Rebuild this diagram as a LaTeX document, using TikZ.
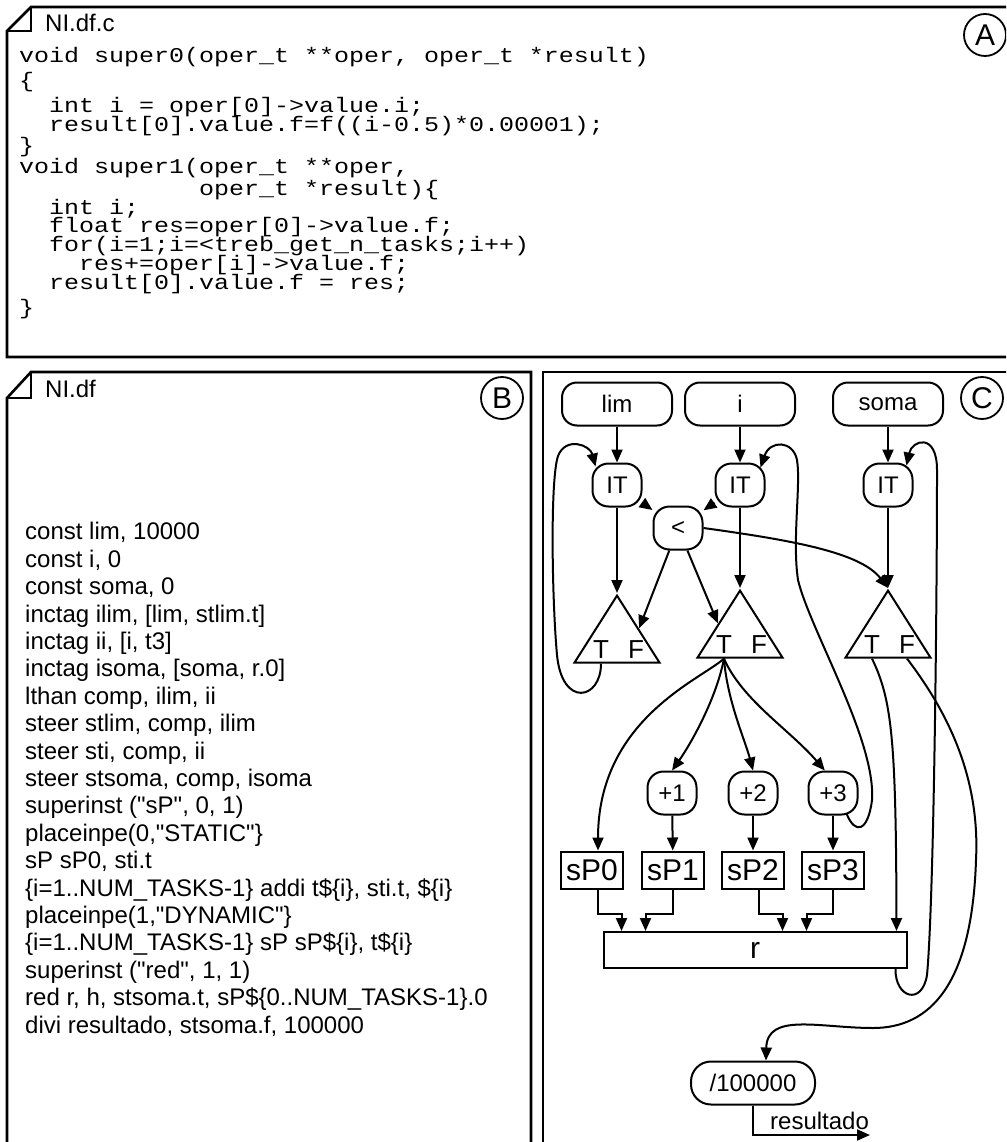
\documentclass[tikz,border=0pt]{standalone}
\usepackage{fontspec}
\setmainfont{Liberation Sans}
\newfontfamily\labelfont{Liberation Sans}
\newfontfamily\codefam{Liberation Mono}[FakeStretch=1.19]
\usetikzlibrary{arrows.meta,shapes.geometric}

\newcommand\codefont{\codefam\fontsize{21}{18.8}\selectfont\lineskiplimit=-40pt\relax}

\tikzset{
  panel/.style={line width=2.6pt},
  txt/.style={font=\labelfont\fontsize{24}{27.4}\selectfont},
  big/.style={font=\labelfont\fontsize{30}{30}\selectfont},
  tag/.style={draw,circle,line width=1.8pt,minimum size=42pt,inner sep=0pt,big},
  val/.style={draw,rounded corners=15pt,line width=2pt,minimum width=110pt,minimum height=43pt,inner sep=0pt,txt},
  op/.style={draw,rounded corners=16pt,line width=2pt,minimum width=49pt,minimum height=43pt,inner sep=0pt,txt},
  sp/.style={draw,line width=2pt,minimum width=62pt,minimum height=37pt,inner sep=0pt,big},
  rbox/.style={draw,line width=2pt,minimum width=303pt,minimum height=36pt,inner sep=0pt,big},
  steer/.style={draw,line width=2pt,isosceles triangle,shape border rotate=90,isosceles triangle stretches,
    minimum width=85pt,minimum height=67pt,inner sep=0pt,anchor=apex},
  tf/.style={font=\labelfont\fontsize{26}{26}\selectfont,anchor=base,inner sep=0pt},
  arr/.style={line width=2pt,-{Triangle[length=13pt,width=11pt]}},
}

\begin{document}
\begin{tikzpicture}[x=1pt,y=-1pt]
\useasboundingbox (0,0) rectangle (1006,1142);
\clip (0,0) rectangle (1006,1142);

% Panel A: the C file
\draw[panel] (7,31) -- (31,7) -- (1015,7) -- (1015,357) -- (7,357) -- cycle;
\draw[panel] (31,7) -- (31,31) -- (7,31);
\node[txt,anchor=base west,inner sep=0pt] (hdA) at (45,32) {NI.df.c};
\node[tag] (tagA) at (985,35) {A};
% anchored on the baseline of the last line
\node[anchor=base west,inner sep=0pt,align=left,font=\codefont] (code) at (19,314) {%
void super0(oper\_t **oper, oper\_t *result)\\[6pt]
\{\\[6pt]
~~int i = oper[0]->value.i;\\
~~result[0].value.f=f((i-0.5)*0.00001);\\[2.5pt]
\}\\[2.5pt]
void super1(oper\_t **oper,\\[2.5pt]
~~~~~~~~~~~~oper\_t *result)\{\\
~~int i;\\
~~float res=oper[0]->value.f;\\
~~for(i=1;i=<treb\_get\_n\_tasks;i++)\\
~~~~res+=oper[i]->value.f;\\
~~result[0].value.f = res;\\[6pt]
\}};

% Panel B: the dataflow source
\draw[panel] (7,398) -- (31,372) -- (531,372) -- (531,1150) -- (7,1150) -- cycle;
\draw[panel] (31,372) -- (31,398) -- (7,398);
\node[txt,anchor=base west,inner sep=0pt] (hdB) at (45,397) {NI.df};
\node[tag] (tagB) at (502,398) {B};
\node[txt,anchor=base west,inner sep=0pt,align=left] (src) at (25,1033) {%
const lim, 10000\\
const i, 0\\
const soma, 0\\
inctag ilim, [lim, stlim.t]\\
inctag ii, [i, t3]\\
inctag isoma, [soma, r.0]\\
lthan comp, ilim, ii\\
steer stlim, comp, ilim\\
steer sti, comp, ii\\
steer stsoma, comp, isoma\\
superinst ("sP", 0, 1)\\
placeinpe(0,"STATIC"\}\\
sP sP0, sti.t\\
\{i=1..NUM\_TASKS-1\} addi t\$\{i\}, sti.t, \$\{i\}\\
placeinpe(1,"DYNAMIC"\}\\
\{i=1..NUM\_TASKS-1\} sP sP\$\{i\}, t\$\{i\}\\
superinst ("red", 1, 1)\\
red r, h, stsoma.t, sP\$\{0..NUM\_TASKS-1\}.0\\
divi resultado, stsoma.f, 100000};

% Panel C: the graph
\draw[panel] (543,372) rectangle (1015,1150);
\node[tag] (tagC) at (982,398) {C};

% Constants
\node[val] (lim) at (617,404) {lim};
\node[val] (iv) at (740,404) {i};
\node[val] (soma) at (888,404) {soma};

% Inctags and comparison
\node[op] (itl) at (617,485) {IT};
\node[op] (iti) at (740,485) {IT};
\node[op] (its) at (888,485) {IT};
\node[op] (lt) at (678,528) {<};

% Steers
\node[steer] (tl) at (617,593) {};
\node[steer] (ti) at (740,588) {};
\node[steer] (ts) at (888,588) {};
\node[tf] (tlT) at ([shift={(-16pt,5pt)}]tl.lower side) {T};
\node[tf] (tlF) at ([shift={(19pt,5pt)}]tl.lower side) {F};
\node[tf] (tiT) at ([shift={(-16pt,5pt)}]ti.lower side) {T};
\node[tf] (tiF) at ([shift={(19pt,5pt)}]ti.lower side) {F};
\node[tf] (tsT) at ([shift={(-16pt,5pt)}]ts.lower side) {T};
\node[tf] (tsF) at ([shift={(19pt,5pt)}]ts.lower side) {F};

% Increments and super instructions
\node[op] (p1) at (672,793) {+1};
\node[op] (p2) at (753,793) {+2};
\node[op] (p3) at (833,793) {+3};
\node[sp] (sp0) at (592,870) {sP0};
\node[sp] (sp1) at (673,870) {sP1};
\node[sp] (sp2) at (753,870) {sP2};
\node[sp] (sp3) at (833,870) {sP3};

% Reduction and division
\node[rbox] (r) at (755,950) {r};
\node[op,minimum width=124pt,rounded corners=20pt] (div) at (753,1083) {/100000};
\coordinate (out) at (870,1135);
\node[txt,anchor=base west,inner sep=0pt] (resl) at (770,1129) {resultado};

% Inputs
\draw[arr] (lim) -- (itl);
\draw[arr] (iv) -- (iti);
\draw[arr] (soma) -- (its);

% Comparison and steering
\draw[arr] (itl) -- (lt);
\draw[arr] (iti) -- (lt);
\draw[arr] (itl) -- (tl.apex);
\draw[arr] (iti) -- (ti.apex);
\draw[arr] (its) -- (ts.apex);
\draw[arr] (lt) -- (tl.right side);
\draw[arr] (lt) -- (ti.left side);
\draw[arr] (lt.east) .. controls (790,540) and (860,552) .. (ts.apex);

% lim goes back round
\draw[arr] (tlT |- tl.lower side) .. controls (601,700) and (562,708) .. (557,655)
  .. controls (552,600) and (550,480) .. (558,456)
  .. controls (566,436) and (590,445) .. ([shift={(4pt,-4pt)}]itl.north west);

% i fans out to the tasks
\draw[arr] (tiT |- ti.lower side) .. controls (700,680) and (598,720) .. ([xshift=6pt]sp0.north);
\draw[arr] (tiT |- ti.lower side) .. controls (716,700) and (690,745) .. (p1.north);
\draw[arr] (tiT |- ti.lower side) .. controls (727,700) and (745,740) .. (p2.north);
\draw[arr] (tiT |- ti.lower side) .. controls (742,700) and (790,730) .. (p3.110);
\draw[arr] (p1) -- (sp1);
\draw[arr] (p2) -- (sp2);
\draw[arr] (p3) -- (sp3);
\draw[arr] ([shift={(-12pt,2pt)}]p3.south east) .. controls (855,835) and (868,832) .. (872,800)
  .. controls (876,740) and (810,630) .. (798,580)
  .. controls (792,540) and (801,485) .. (797,460)
  .. controls (793,440) and (770,440) .. ([shift={(-5pt,-5pt)}]iti.north east);

% Partial results into the reduction
\draw[arr] ([xshift=6pt]sp0.south) -- ++(0,24) -| ([xshift=19pt]r.north west);
\draw[arr] (sp1.south) -- ++(0,24) -| ([xshift=43pt]r.north west);
\draw[arr] ([xshift=6pt]sp2.south) -- ++(0,24) -| ([xshift=180pt]r.north west);
\draw[arr] (sp3.south) -- ++(0,24) -| ([xshift=204pt]r.north west);
\draw[arr] (tsT |- ts.lower side) .. controls (892,700) and (896,740) .. ([xshift=-11pt]r.north east);
\draw[arr] ([xshift=-12pt]r.south east) .. controls (895,998) and (922,1006) .. (927,975)
  .. controls (934,900) and (937,600) .. (937,470)
  .. controls (937,432) and (912,440) .. ([shift={(-7pt,-3pt)}]its.north east);

% Final sum
\draw[arr] (tsF |- ts.lower side) .. controls (950,715) and (980,780) .. (976,860)
  .. controls (972,985) and (930,1028) .. (873,1028)
  .. controls (820,1028) and (767,1012) .. (div.60);
\draw[arr] (div) |- (out);
\end{tikzpicture}
\end{document}
